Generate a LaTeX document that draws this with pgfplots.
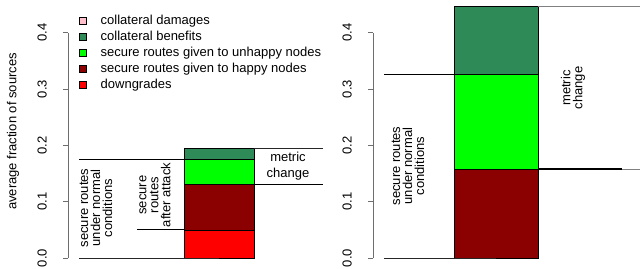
\documentclass[border=0pt]{standalone}
\usepackage{pgfplots}
\pgfplotsset{compat=1.18}
\usepackage{fontspec}
\setmainfont{Liberation Sans}
\definecolor{cpink}{RGB}{255,192,203}
\definecolor{cseagreen}{RGB}{46,139,87}
\definecolor{cgreen}{RGB}{0,255,0}
\definecolor{cdarkred}{RGB}{139,0,0}
\definecolor{cred}{RGB}{255,0,0}
\definecolor{axgray}{RGB}{110,110,110}
\newcommand{\fs}{\fontsize{13}{12}\selectfont}
\pgfplotsset{
  panel/.style={
    scale only axis, clip=false,
    height=268pt,
    ymin=-0.017752, ymax=0.45802,
    axis x line=none, axis y line=left,
    y axis line style={draw=none},
    ytick={0,0.1,0.2,0.3,0.4},
    tick align=outside, major tick length=5pt,
    ytick style={axgray, line width=0.8pt},
    /pgf/number format/assume math mode=true,
    yticklabel={\rotatebox{90}{\pgfmathprintnumber[fixed,fixed zerofill,precision=1]{\tick}}},
    yticklabel style={anchor=east, font=\fs, inner sep=0pt, xshift=-16pt},
  },
}
\begin{document}
\begin{tikzpicture}
\useasboundingbox (0,0) rectangle (640pt,268pt);
% ---------------- left panel ----------------
\begin{axis}[panel, at={(68pt,0pt)}, anchor=south west, width=256pt,
  xmin=68, xmax=324,
  reverse legend,
  legend style={draw=none, fill=none, at={(axis cs:79,0.4332)}, anchor=north west,
    font=\fs, inner sep=0pt, row sep=3pt, column sep=14pt,
    nodes={inner sep=0pt, text height=10pt, text depth=3pt, anchor=west}},
  legend image code/.code={\draw[#1, draw=black, line width=0.5pt] (0pt,-3.5pt) rectangle (7pt,3.5pt);},
]
\draw[axgray, line width=0.8pt] (axis cs:68,0) -- (axis cs:68,0.4);
\addplot[fill=cred, draw=black, line width=0.5pt] coordinates {(184,0) (254,0) (254,0.05) (184,0.05)} -- cycle;
\addlegendentry{downgrades}
\addplot[fill=cdarkred, draw=black, line width=0.5pt] coordinates {(184,0.05) (254,0.05) (254,0.131) (184,0.131)} -- cycle;
\addlegendentry{secure routes given to happy nodes}
\addplot[fill=cgreen, draw=black, line width=0.5pt] coordinates {(184,0.131) (254,0.131) (254,0.175) (184,0.175)} -- cycle;
\addlegendentry{secure routes given to unhappy nodes}
\addplot[fill=cseagreen, draw=black, line width=0.5pt] coordinates {(184,0.175) (254,0.175) (254,0.195) (184,0.195)} -- cycle;
\addlegendentry{collateral benefits}
\addlegendimage{fill=cpink}
\addlegendentry{collateral damages}
\addplot[black!85, line width=0.8pt, forget plot] coordinates {(79,0) (219,0)};
\addplot[black, line width=0.8pt, forget plot] coordinates {(79,0.175) (184,0.175)};
\addplot[black, line width=0.8pt, forget plot] coordinates {(137,0.05) (184,0.05)};
\addplot[black!85, line width=0.8pt, forget plot] coordinates {(254,0.195) (323,0.195)};
\addplot[black, line width=0.8pt, forget plot] coordinates {(254,0.131) (323,0.131)};
\node[rotate=90, align=center, font=\fs] at (axis cs:96,0.0888) {secure routes\\under normal\\conditions};
\node[rotate=90, align=center, font=\fs] at (axis cs:155,0.1118) {secure\\routes\\after attack};
\node[align=center, font=\fontsize{13}{16}\selectfont] at (axis cs:288,0.163) {metric\\change};
\node[rotate=90, font=\fs] at (axis cs:13,0.2246) {average fraction of sources};
\end{axis}
% ---------------- right panel ----------------
\begin{axis}[panel, at={(373pt,0pt)}, anchor=south west, width=267pt,
  xmin=373, xmax=640]
\draw[axgray, line width=0.8pt] (axis cs:373,0) -- (axis cs:373,0.4);
\addplot[fill=cdarkred, draw=black, line width=0.5pt] coordinates {(454,0) (538,0) (538,0.158) (454,0.158)} -- cycle;
\addplot[fill=cgreen, draw=black, line width=0.5pt] coordinates {(454,0.158) (538,0.158) (538,0.326) (454,0.326)} -- cycle;
\addplot[fill=cseagreen, draw=black, line width=0.5pt] coordinates {(454,0.326) (538,0.326) (538,0.447) (454,0.447)} -- cycle;
\addplot[black!85, line width=0.8pt] coordinates {(384,0) (496,0)};
\addplot[black, line width=0.8pt] coordinates {(384,0.326) (454,0.326)};
\addplot[gray, line width=0.8pt] coordinates {(538,0.447) (640,0.447)};
\addplot[black, line width=0.8pt] coordinates {(454,0.447) (538,0.447)};
\addplot[gray, line width=0.8pt] coordinates {(538,0.158) (640,0.158)};
\addplot[black, line width=1.4pt] coordinates {(538,0.158) (622,0.158)};
\node[rotate=90, align=center, font=\fs] at (axis cs:408,0.1633) {secure routes\\under normal\\conditions};
\node[rotate=90, align=center, font=\fs] at (axis cs:573,0.3018) {metric\\change};
\end{axis}
\end{tikzpicture}
\end{document}
